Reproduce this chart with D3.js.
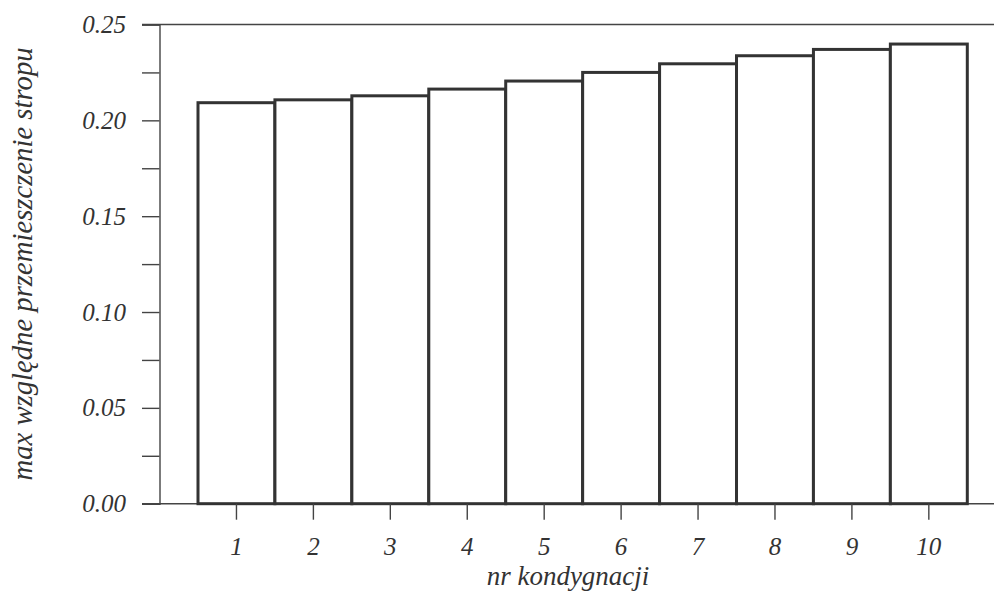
<!DOCTYPE html>
<html>
<head>
<meta charset="utf-8">
<script src="https://cdn.jsdelivr.net/npm/d3@7"></script>
<style>
  html, body { margin: 0; padding: 0; background: #fff; }
  svg text { font-family: "Liberation Serif", "Times New Roman", Times, serif; font-style: italic; fill: #333; }
</style>
</head>
<body>
<svg id="chart" width="994" height="592"></svg>
<script>
// Storey numbers and peak relative storey drift per storey
const storeys = [1, 2, 3, 4, 5, 6, 7, 8, 9, 10];
const drift = [0.2092, 0.2107, 0.2128, 0.2163, 0.2205, 0.2250, 0.2295, 0.2337, 0.2370, 0.2398];
const yTicks = [0.00, 0.025, 0.05, 0.075, 0.10, 0.125, 0.15, 0.175, 0.20, 0.225, 0.25];
const yTickLabels = ["0.00", "", "0.05", "", "0.10", "", "0.15", "", "0.20", "", "0.25"];
const xTitle = "nr kondygnacji";
const yTitle = "max względne przemieszczenie stropu";

const svg = d3.select("#chart");
const axisX = 159.5, tickLen = 17.5;

const x = d3.scaleBand().domain(storeys).range([198, 967.3]).padding(0);
const y = d3.scaleLinear().domain([0, 0.25]).range([503.7, 24.5]);

// horizontal reference lines at 0 and 0.25
[0, 0.25].forEach(v => {
  svg.append("line")
    .attr("x1", axisX - tickLen).attr("x2", 994)
    .attr("y1", y(v)).attr("y2", y(v))
    .attr("stroke", "#444").attr("stroke-width", 1.4);
});

// bars
svg.append("g").selectAll("rect")
  .data(storeys.map((s, i) => ({ s, v: drift[i] })))
  .join("rect")
  .attr("x", d => x(d.s))
  .attr("y", d => y(d.v))
  .attr("width", x.bandwidth())
  .attr("height", d => y(0) - y(d.v))
  .attr("fill", "#fff")
  .attr("stroke", "#333")
  .attr("stroke-width", 3);

// y axis
const yAxis = d3.axisLeft(y)
  .tickValues(yTicks)
  .tickFormat((d, i) => yTickLabels[i])
  .tickSize(tickLen)
  .tickPadding(16);
const gy = svg.append("g").attr("transform", `translate(${axisX},0)`).call(yAxis);
gy.attr("font-family", null);
gy.select(".domain").attr("stroke", "#444").attr("stroke-width", 1.4);
gy.selectAll(".tick line").attr("stroke", "#444").attr("stroke-width", 1.4);
gy.selectAll(".tick text").attr("font-size", 25).attr("fill", "#333");

// x axis (ticks only)
const xAxis = d3.axisBottom(x).tickSize(16).tickPadding(18).tickSizeOuter(0);
const gx = svg.append("g").attr("transform", `translate(0,${y(0)})`).call(xAxis);
gx.attr("font-family", null);
gx.select(".domain").remove();
gx.selectAll(".tick line").attr("stroke", "#444").attr("stroke-width", 1.4);
gx.selectAll(".tick text").attr("font-size", 25).attr("fill", "#333");

// axis titles
svg.append("text")
  .attr("x", 568).attr("y", 585)
  .attr("text-anchor", "middle")
  .attr("font-size", 27)
  .text(xTitle);

svg.append("text")
  .attr("transform", "translate(32,264) rotate(-90)")
  .attr("text-anchor", "middle")
  .attr("font-size", 28.7)
  .text(yTitle);
</script>
</body>
</html>
